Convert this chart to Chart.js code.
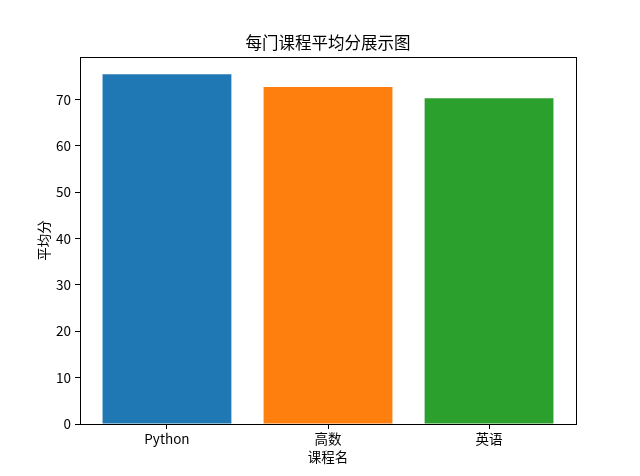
<!DOCTYPE html>
<html>
<head>
<meta charset="utf-8">
<script src="https://cdn.jsdelivr.net/npm/chart.js@4/dist/chart.umd.min.js"></script>
<style>
    html, body { margin: 0; padding: 0; background: #fff; }
    #wrap { width: 640px; height: 476px; }
</style>
</head>
<body>
<div id="wrap"><canvas id="avgChart" width="640" height="476"></canvas></div>
<script>
const courses = ['Python', '高数', '英语'];
const avgScores = [75.5, 72.7, 70.3];
const yTicks = [0, 10, 20, 30, 40, 50, 60, 70];
const barColors = ['#1f77b4', '#ff7f0e', '#2ca02c'];

const FONT = '"Noto Sans CJK SC", "DejaVu Sans", sans-serif';
const ctx = document.getElementById('avgChart');

// frame box + titles, drawn like matplotlib's axes
const framePlugin = {
    id: 'frame',
    afterDraw(chart) {
        const { ctx: c, chartArea: a } = chart;
        c.save();
        c.strokeStyle = '#000';
        c.lineWidth = 1;
        c.strokeRect(Math.round(a.left) + 0.5, Math.round(a.top) + 0.5, Math.round(a.right - a.left), Math.round(a.bottom - a.top));
        c.fillStyle = '#000';
        c.textAlign = 'center';
        c.textBaseline = 'middle';
        c.font = `16.5px ${FONT}`;
        c.fillText('每门课程平均分展示图', (a.left + a.right) / 2, 43);
        c.font = `13.5px ${FONT}`;
        c.fillText('课程名', (a.left + a.right) / 2, 457);
        c.translate(44, (a.top + a.bottom) / 2);
        c.rotate(-Math.PI / 2);
        c.fillText('平均分', 0, 0);
        c.restore();
    },
};

new Chart(ctx, {
    type: 'bar',
    data: {
        datasets: [{
            data: courses.map((name, i) => ({ x: i, y: avgScores[i] })),
            backgroundColor: barColors,
            borderWidth: 0,
            inflateAmount: 0,
            barPercentage: 0.8,
            categoryPercentage: 1,
        }],
    },
    options: {
        responsive: false,
        animation: false,
        devicePixelRatio: 1,
        layout: { padding: { top: 57, right: 64, left: 0, bottom: 0 } },
        plugins: { legend: { display: false }, title: { display: false }, tooltip: { enabled: false } },
        scales: {
            x: {
                type: 'linear',
                min: -0.54,
                max: 2.54,
                offset: false,
                afterBuildTicks: (s) => { s.ticks = courses.map((_, i) => ({ value: i })); },
                afterFit: (s) => { s.height = 52; },
                ticks: {
                    callback: (v) => courses[v] ?? '',
                    color: '#000',
                    font: { family: FONT, size: 13.5 },
                    padding: 2,
                    maxRotation: 0,
                },
                grid: { offset: false, drawOnChartArea: false, drawTicks: true, tickLength: 5, color: '#000' },
                border: { color: '#000' },
            },
            y: {
                min: 0,
                max: 79.2,
                afterBuildTicks: (s) => { s.ticks = yTicks.map((v) => ({ value: v })); },
                afterFit: (s) => { s.width = 80; },
                ticks: {
                    color: '#000',
                    font: { family: FONT, size: 13.5 },
                    padding: 4,
                },
                grid: { drawOnChartArea: false, drawTicks: true, tickLength: 5, color: '#000' },
                border: { color: '#000' },
            },
        },
    },
    plugins: [framePlugin],
});
</script>
</body>
</html>
